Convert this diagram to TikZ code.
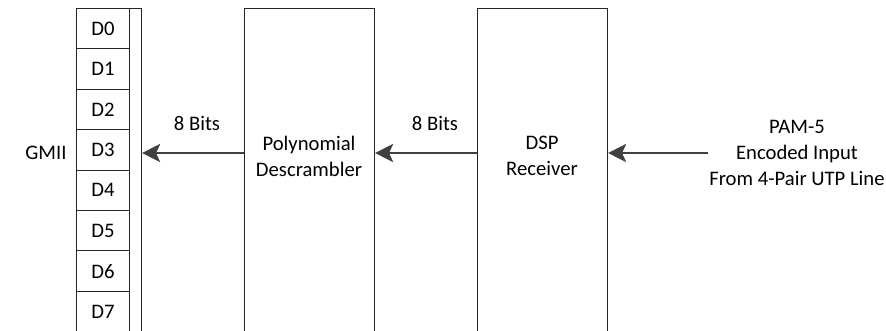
\documentclass[tikz,border=0pt]{standalone}
\usepackage{fontspec}
\setmainfont{Carlito}
\usetikzlibrary{arrows.meta}
\definecolor{linec}{HTML}{262626}
\definecolor{arrc}{HTML}{404040}
\begin{document}
\begin{tikzpicture}[x=0.75pt,y=-0.75pt,
  every node/.style={font=\fontsize{15.5}{19.5}\selectfont, text=black, inner sep=0pt},
  blockbox/.style={draw=linec, line width=0.8pt, anchor=north west, minimum width=97.5pt, minimum height=255pt},
  cellbox/.style={draw=linec, line width=0.8pt, anchor=north west, minimum width=39.75pt, minimum height=30.3pt},
  txt/.style={align=center},
  arr/.style={draw=arrc, line width=2.1pt, -{Stealth[length=13.5pt, width=13.5pt, inset=3pt]}}
]
\clip (0,0) rectangle (886,330);
% GMII register
\node[blockbox, minimum width=48.75pt] (gmii) at (76,8) {};
\foreach \i in {0,...,7}{
  \node[cellbox] (d\i) at (76,{8+40.4*\i}) {D\i};
}
\node[txt] (gmiilbl) at (46,153) {GMII};
% blocks
\node[blockbox] (poly) at (244,8) {};
\node[txt] (polytxt) at (309,156) {Polynomial\\Descrambler};
\node[blockbox] (dsp) at (477,8) {};
\node[txt] (dsptxt) at (542,156) {DSP\\Receiver};
% input text
\node[txt] (pam) at (797,153) {PAM-5\\Encoded Input\\From 4-Pair UTP Line};
% arrows
\coordinate (ay) at (0,153);
\coordinate (src) at (708,153);
\draw[arr] (ay -| poly.west) -- (ay -| gmii.east);
\draw[arr] (ay -| dsp.west) -- (ay -| poly.east);
\draw[arr] (src) -- (ay -| dsp.east);
% labels
\node[txt] (lbl1) at (197,123) {8 Bits};
\node[txt] (lbl2) at (435,123) {8 Bits};
\end{tikzpicture}
\end{document}
